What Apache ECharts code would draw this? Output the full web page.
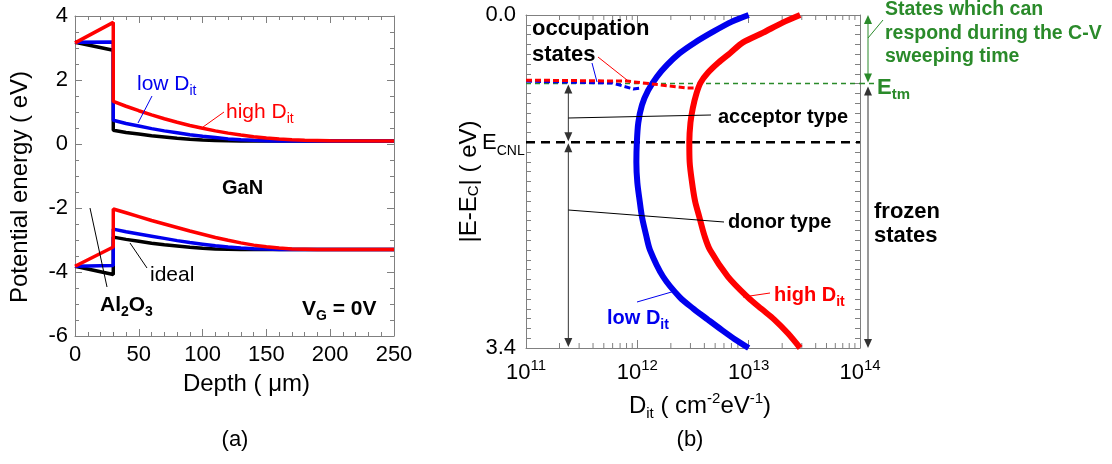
<!DOCTYPE html>
<html><head><meta charset="utf-8">
<script src="https://cdn.jsdelivr.net/npm/echarts@6/dist/echarts.min.js"></script>
<style>html,body{margin:0;padding:0;background:#fff}#c{width:1112px;height:464px}</style>
</head><body><div id="c"></div>
<script>
const FONT = '"Liberation Sans", Arial, sans-serif';

// ---------- Panel (a): band diagram, [depth, energy] ----------
const idealCB = [[0,3.18],[30,2.93],[30,0.43],[40,0.36],[50,0.31],[60,0.26],[70,0.22],[80,0.18],[90,0.15],[100,0.125],[110,0.11],[120,0.10],[130,0.095],[140,0.09],[250,0.09]];
const lowCB   = [[0,3.18],[30,3.19],[30,0.74],[40,0.64],[50,0.56],[60,0.48],[70,0.41],[80,0.35],[90,0.29],[100,0.24],[110,0.20],[120,0.16],[130,0.135],[140,0.115],[150,0.10],[160,0.095],[170,0.09],[250,0.09]];
const highCB  = [[0,3.16],[30,3.8],[30,1.33],[40,1.18],[50,1.04],[60,0.91],[70,0.79],[80,0.68],[90,0.58],[100,0.49],[110,0.41],[120,0.34],[130,0.28],[140,0.23],[150,0.19],[160,0.16],[170,0.135],[180,0.12],[190,0.11],[200,0.10],[250,0.09]];
const idealVB = [[0,-3.82],[30,-4.08],[30,-2.91],[40,-2.98],[50,-3.04],[60,-3.10],[70,-3.15],[80,-3.19],[90,-3.23],[100,-3.26],[110,-3.28],[120,-3.29],[130,-3.30],[250,-3.30]];
const lowVB   = [[0,-3.82],[30,-3.80],[30,-2.66],[40,-2.74],[50,-2.81],[60,-2.88],[70,-2.95],[80,-3.02],[90,-3.08],[100,-3.13],[110,-3.18],[120,-3.22],[130,-3.25],[140,-3.27],[150,-3.285],[160,-3.295],[170,-3.30],[250,-3.30]];
const highVB  = [[0,-3.82],[30,-3.22],[30,-2.03],[40,-2.15],[50,-2.27],[60,-2.39],[70,-2.50],[80,-2.61],[90,-2.72],[100,-2.82],[110,-2.92],[120,-3.01],[130,-3.09],[140,-3.16],[150,-3.21],[160,-3.25],[170,-3.28],[180,-3.29],[190,-3.30],[250,-3.30]];

// ---------- Panel (b): Dit distribution, [Dit, |E-Ec|] ----------
const lowDit = [[1.0e13,0.0],[7.0e12,0.07],[4.8e12,0.17],[3.3e12,0.28],[2.4e12,0.39],[1.85e12,0.51],[1.5e12,0.63],[1.25e12,0.77],[1.1e12,0.92],[1.02e12,1.1],[0.99e12,1.3],[0.98e12,1.5],[1.0e12,1.71],[1.05e12,1.9],[1.1e12,2.06],[1.2e12,2.25],[1.3e12,2.40],[1.7e12,2.67],[2.4e12,2.88],[3.2e12,3.0],[4.3e12,3.11],[5.8e12,3.22],[7.5e12,3.31],[1.0e13,3.4]];
const highDit = [[2.9e13,0.0],[2.0e13,0.08],[1.35e13,0.18],[8.9e12,0.28],[6.8e12,0.39],[5.3e12,0.49],[4.3e12,0.59],[3.7e12,0.69],[3.4e12,0.80],[3.15e12,0.95],[3.0e12,1.1],[2.93e12,1.3],[2.95e12,1.5],[3.1e12,1.71],[3.3e12,1.9],[3.6e12,2.06],[4.0e12,2.25],[4.5e12,2.40],[6.5e12,2.67],[9.8e12,2.88],[1.3e13,3.0],[1.7e13,3.11],[2.25e13,3.25],[2.9e13,3.4]];
const lowOcc  = [[1e11,0.675],[6e11,0.695],[9.2e11,0.755],[1.1e12,0.745]];
const highOcc = [[1e11,0.665],[8.1e11,0.675],[2.8e12,0.745],[3.3e12,0.745]];
const E_tm = 0.7;
const E_CNL = 1.3;
const E_max = 3.4;
const arrowDit = 2.4e11;
const logMinorMantissa = [2,3,4,5,6,7,8,9];
const logDecades = [1e11,1e12,1e13];

const gray = '#808080';
const chart = echarts.init(document.getElementById('c'));

function frameAxis(o) {
  return Object.assign({
    axisLine:{show:true, onZero:false, lineStyle:{color:gray, width:1}},
    axisTick:{show:true, inside:true, length:7, lineStyle:{color:gray}},
    splitLine:{show:false},
    axisLabel:{show:false}
  }, o);
}
const lbl = {fontSize:22, color:'#000', fontFamily:FONT};
const nameStyle = {fontSize:24, color:'#000', fontFamily:FONT};

const minorLogTicks = [];
logDecades.forEach(d => logMinorMantissa.forEach(m => minorLogTicks.push([m*d, E_max])));

const lineS = (data, color, xi, yi, w, extra) => Object.assign({
  type:'line', data, xAxisIndex:xi, yAxisIndex:yi, showSymbol:false, symbol:'none',
  lineStyle:{color, width:w}, itemStyle:{color}, silent:true
}, extra||{});

chart.setOption({
  animation:false,
  backgroundColor:'#fff',
  grid:[
    {left:75, top:16, width:319, height:320},
    {left:526, top:15, width:334, height:333}
  ],
  xAxis:[
    frameAxis({gridIndex:0, type:'value', min:0, max:250, interval:50, position:'bottom',
      minorTick:{show:true, splitNumber:5, length:4, lineStyle:{color:gray}},
      axisLabel:Object.assign({show:true, margin:8}, lbl),
      name:'Depth ( μm)', nameLocation:'middle', nameGap:36,
      nameTextStyle:Object.assign({padding:[0,0,0,24]}, nameStyle)}),
    frameAxis({gridIndex:0, type:'value', min:0, max:250, interval:50, position:'top',
      minorTick:{show:true, splitNumber:5, length:4, lineStyle:{color:gray}}}),
    frameAxis({gridIndex:1, type:'log', logBase:10, min:1e11, max:1e14, splitNumber:3, position:'bottom',
      axisTick:{show:true, inside:true, length:8, lineStyle:{color:gray}},
      axisLabel:{show:true, margin:10, fontFamily:FONT, color:'#000',
        formatter:v => '{b|10}{s|' + Math.round(Math.log10(v)) + '}',
        rich:{b:{fontSize:22, fontFamily:FONT, color:'#000', lineHeight:30},
              s:{fontSize:15, fontFamily:FONT, color:'#000', verticalAlign:'top'}}},
      name:'{n|D}{d|it}{n| ( cm}{p|-2}{n|eV}{p|-1}{n|)}', nameLocation:'middle', nameGap:43,
      nameTextStyle:{fontFamily:FONT, color:'#000', padding:[0,0,0,14],
        rich:{n:{fontSize:24, fontFamily:FONT, color:'#000', lineHeight:30},
              d:{fontSize:15, fontFamily:FONT, color:'#000', verticalAlign:'bottom'},
              p:{fontSize:15, fontFamily:FONT, color:'#000', verticalAlign:'top'}}}}),
    frameAxis({gridIndex:1, type:'log', logBase:10, min:1e11, max:1e14, splitNumber:3, position:'top',
      axisTick:{show:true, inside:true, length:8, lineStyle:{color:gray}}})
  ],
  yAxis:[
    frameAxis({gridIndex:0, type:'value', min:-6, max:4, interval:2, position:'left',
      minorTick:{show:true, splitNumber:4, length:4, lineStyle:{color:gray}},
      axisLabel:Object.assign({show:true, margin:7}, lbl)}),
    frameAxis({gridIndex:0, type:'value', min:-6, max:4, interval:2, position:'right',
      minorTick:{show:true, splitNumber:4, length:4, lineStyle:{color:gray}}}),
    frameAxis({gridIndex:1, type:'value', inverse:true, min:0, max:E_max, interval:0.1, position:'left',
      axisTick:{show:true, inside:true, length:5, lineStyle:{color:gray}},
      axisLabel:Object.assign({show:true, margin:10, interval:0, showMinLabel:true, showMaxLabel:true,
        formatter:v => (Math.abs(v) < 1e-6 ? '0.0' : (Math.abs(v - E_max) < 1e-6 ? '3.4' : ''))}, lbl),
      name:'|E-E{s|C}| ( eV)', nameLocation:'middle', nameGap:20, nameRotate:90,
      nameTextStyle:{fontSize:24, fontFamily:FONT, color:'#000',
        rich:{s:{fontSize:15, fontFamily:FONT, color:'#000', verticalAlign:'bottom'}}}}),
    frameAxis({gridIndex:1, type:'value', inverse:true, min:0, max:E_max, interval:0.1, position:'right',
      axisTick:{show:true, inside:true, length:5, lineStyle:{color:gray}}})
  ],
  series:[
    lineS(idealCB,'#000',0,0,3.5), lineS(idealVB,'#000',0,0,3.5),
    lineS(lowCB,'#0000ee',0,0,3.5), lineS(lowVB,'#0000ee',0,0,3.5),
    lineS(highCB,'#ff0000',0,0,3.5), lineS(highVB,'#ff0000',0,0,3.5),
    {type:'custom', xAxisIndex:2, yAxisIndex:2, silent:true, data:minorLogTicks, encode:{x:0, y:1},
      renderItem:(p, api) => {
        const b = api.coord([api.value(0), E_max]);
        const t = api.coord([api.value(0), 0]);
        return {type:'group', children:[
          {type:'line', shape:{x1:b[0], y1:b[1], x2:b[0], y2:b[1]-5}, style:{stroke:gray, lineWidth:1}},
          {type:'line', shape:{x1:t[0], y1:t[1], x2:t[0], y2:t[1]+5}, style:{stroke:gray, lineWidth:1}}
        ]};
      }},
    lineS([[1e11,E_CNL],[1e14,E_CNL]],'#000',2,2,2.5,{lineStyle:{color:'#000', width:2.5, type:[9,6]}}),
    lineS([[1e11,E_tm],[1e14,E_tm]],'#2a8a2a',2,2,1.5,{lineStyle:{color:'#2a8a2a', width:1.5, type:[5,4]}}),
    lineS(lowDit,'#0000ee',2,2,6,{smooth:0.3}),
    lineS(highDit,'#ff0000',2,2,6,{smooth:0.3}),
    lineS(lowOcc,'#0000ee',2,2,3,{lineStyle:{color:'#0000ee', width:3, type:[6,3]}}),
    lineS(highOcc,'#ff0000',2,2,3,{lineStyle:{color:'#ff0000', width:3, type:[6,3]}})
  ]
});

// ---------- annotations ----------
const P = (d, e) => chart.convertToPixel({xAxisIndex:2, yAxisIndex:2}, [d, e]);
const G = [];
function txt(x, y, text, o) {
  G.push({type:'text', x, y, z:100, silent:true, style:Object.assign({text, fontFamily:FONT, fontSize:21,
    fill:'#000', align:'left', verticalAlign:'middle'}, o||{})});
}
function seg(x1, y1, x2, y2, color, w) {
  G.push({type:'line', z:100, silent:true, shape:{x1, y1, x2, y2}, style:{stroke:color, lineWidth:w||1}});
}
function vArrow(x, yA, yB, color) {
  seg(x, yA+3, x, yB-3, color, 1);
  G.push({type:'polygon', z:100, silent:true, shape:{points:[[x,yA],[x-4,yA+9],[x+4,yA+9]]}, style:{fill:color}});
  G.push({type:'polygon', z:100, silent:true, shape:{points:[[x,yB],[x-4,yB-9],[x+4,yB-9]]}, style:{fill:color}});
}
const sub = (main, s, fs, ss, color, bold) => ({
  text:'{m|' + main + '}{s|' + s + '}',
  rich:{m:{fontSize:fs, fontFamily:FONT, fill:color, fontWeight:bold?'bold':'normal', lineHeight:fs+8},
        s:{fontSize:ss, fontFamily:FONT, fill:color, fontWeight:bold?'bold':'normal', verticalAlign:'bottom'}}
});

// panel (a)
G.push({type:'text', x:20, y:187, rotation:Math.PI/2, z:100, silent:true, style:{
  text:'Potential energy ( eV)', fontFamily:FONT, fontSize:24, fill:'#000', align:'center', verticalAlign:'middle'}});
txt(137, 84, '', sub('low D','it',21,14,'#0000ee',false));
seg(152, 96, 138, 123, '#0000ee', 1);
txt(226, 112, '', sub('high D','it',21,14,'#ff0000',false));
seg(224, 112, 203, 127, '#ff0000', 1);
txt(222, 188, 'GaN', {fontWeight:'bold', fontSize:20});
txt(150, 275, 'ideal', {fontSize:21});
seg(147, 268, 130, 243, '#000', 1);
G.push({type:'text', x:100, y:305, z:100, silent:true, style:{
  text:'{m|Al}{s|2}{m|O}{s|3}', align:'left', verticalAlign:'middle',
  rich:{m:{fontSize:21, fontFamily:FONT, fontWeight:'bold', fill:'#000', lineHeight:29},
        s:{fontSize:14, fontFamily:FONT, fontWeight:'bold', fill:'#000', verticalAlign:'bottom'}}}});
seg(107, 287, 90, 208, '#000', 1);
G.push({type:'text', x:302, y:309, z:100, silent:true, style:{
  text:'{m|V}{s|G}{m| = 0V}', align:'left', verticalAlign:'middle',
  rich:{m:{fontSize:21, fontFamily:FONT, fontWeight:'bold', fill:'#000', lineHeight:29},
        s:{fontSize:14, fontFamily:FONT, fontWeight:'bold', fill:'#000', verticalAlign:'bottom'}}}});
txt(235, 440, '(a)', {fontSize:22, align:'center'});

// panel (b)
const yTm = P(arrowDit, E_tm)[1], yCNL = P(arrowDit, E_CNL)[1], yTop = P(arrowDit, 0)[1], yBot = P(arrowDit, E_max)[1];
const xA = P(arrowDit, 0)[0];
const xR = P(1e14, 0)[0] + 8;
vArrow(xA, yTm + 1, yCNL - 1, '#333');
vArrow(xA, yCNL + 1, yBot - 1, '#333');
vArrow(xR, yTop, yTm - 1, '#2a8a2a');
vArrow(xR, yTm + 3, yBot, '#333');
seg(P(1e14,0)[0], yTm, xR + 10, yTm, '#2a8a2a', 1.5);
G[G.length-1].style.lineDash = [5,4];

txt(532, 29, 'occupation', {fontWeight:'bold', fontSize:22});
txt(532, 55, 'states', {fontWeight:'bold', fontSize:22});
seg(592, 63, 597, 82, '#0000ee', 1);
seg(598, 57, 627, 80, '#ff0000', 1);
txt(718, 117, 'acceptor type', {fontWeight:'bold', fontSize:20});
seg(xA, 118, 711, 115, '#000', 1);
txt(728, 222, 'donor type', {fontWeight:'bold', fontSize:20});
seg(xA, 210, 724, 222, '#000', 1);
txt(607, 318, '', sub('low D','it',20,14,'#0000ee',true));
seg(637, 302, 675, 291, '#0000ee', 1);
txt(774, 295, '', sub('high D','it',20,14,'#ff0000',true));
seg(743, 297, 770, 293, '#ff0000', 1);
txt(482, yCNL + 1, '', sub('E','CNL',22,14,'#000',false));
G.push({type:'text', x:885, y:-2, z:100, silent:true, style:{
  text:'States which can\nrespond during the C-V\nsweeping time', fontFamily:FONT, fontSize:19.5,
  fontWeight:'bold', fill:'#2a8a2a', lineHeight:23.5, align:'left', verticalAlign:'top'}});
seg(868, 38, 883, 20, '#2a8a2a', 1);
txt(877, yTm + 4, '', sub('E','tm',22,15,'#2a8a2a',true));
G.push({type:'text', x:874, y:200, z:100, silent:true, style:{
  text:'frozen\nstates', fontFamily:FONT, fontSize:22, fontWeight:'bold', fill:'#000',
  lineHeight:24, align:'left', verticalAlign:'top'}});
txt(690, 440, '(b)', {fontSize:22, align:'center'});

chart.setOption({graphic:{elements:G}});
</script>
</body></html>
